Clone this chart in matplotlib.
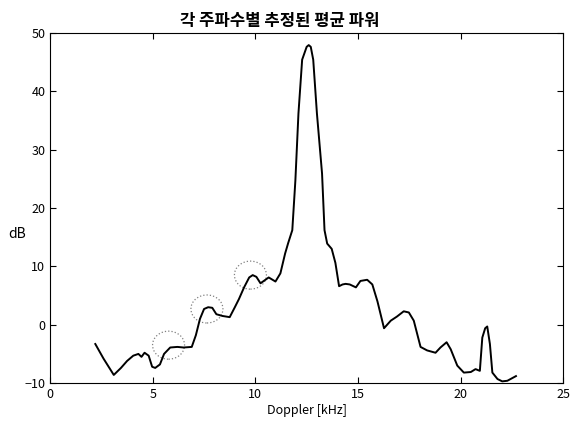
import matplotlib
matplotlib.use("Agg")
import matplotlib.pyplot as plt
from matplotlib.patches import Ellipse

plt.rcParams['font.family'] = ['Noto Sans CJK KR', 'DejaVu Sans']

# mean power per Doppler frequency
freq = [2.2, 2.6, 3.1, 3.45, 3.75, 4.05, 4.3, 4.45, 4.6, 4.8, 4.97, 5.12, 5.35, 5.55,
        5.85, 6.2, 6.5, 6.9, 7.1, 7.3, 7.5, 7.7, 7.9, 8.1, 8.4, 8.75, 9.0, 9.2, 9.45,
        9.7, 9.87, 10.05, 10.25, 10.45, 10.65, 10.98, 11.22, 11.45, 11.6, 11.8, 11.95,
        12.1, 12.28, 12.5, 12.6, 12.7, 12.82, 13.0, 13.25, 13.37, 13.5, 13.72, 13.9,
        14.08, 14.25, 14.4, 14.6, 14.9, 15.12, 15.45, 15.7, 15.95, 16.27, 16.6, 16.9,
        17.23, 17.48, 17.72, 18.05, 18.37, 18.78, 19.02, 19.32, 19.52, 19.84, 20.16,
        20.5, 20.73, 20.94, 21.06, 21.2, 21.3, 21.43, 21.55, 21.8, 22.03, 22.28, 22.7]
power = [-3.3, -5.8, -8.6, -7.4, -6.2, -5.3, -5.0, -5.5, -4.8, -5.3, -7.2, -7.4, -6.8, -5.0,
         -3.9, -3.8, -3.9, -3.8, -1.8, 1.0, 2.7, 3.0, 2.9, 1.8, 1.5, 1.3, 3.0, 4.4, 6.4,
         8.1, 8.5, 8.2, 7.1, 7.6, 8.1, 7.4, 8.8, 12.2, 14.0, 16.2, 24.7,
         36.2, 45.4, 47.6, 47.9, 47.6, 45.4, 36.2, 25.9, 16.2, 13.9, 13.0, 10.6,
         6.6, 6.9, 7.0, 6.9, 6.4, 7.5, 7.7, 6.9, 4.0, -0.6, 0.7, 1.4,
         2.3, 2.1, 0.7, -3.8, -4.4, -4.8, -3.9, -3.0, -4.2, -7.0, -8.2,
         -8.1, -7.6, -7.9, -2.2, -0.6, -0.3, -3.3, -8.2, -9.3, -9.7, -9.6, -8.8]

# dotted circles marking the harmonics
circle_x = [5.77, 7.64, 9.76]
circle_y = [-3.5, 2.7, 8.5]

fig = plt.figure(figsize=(5.7, 4.21), dpi=100)
ax = fig.add_axes([0.088, 0.09, 0.9, 0.832])

ax.plot(freq, power, color='black', linewidth=1.4)
for cx, cy in zip(circle_x, circle_y):
    ax.add_patch(Ellipse((cx, cy), 1.56, 4.8, fill=False, edgecolor='gray',
                         linestyle=':', linewidth=0.9))

ax.set_xlim(0, 25)
ax.set_ylim(-10, 50)
ax.set_xticks([0, 5, 10, 15, 20, 25])
ax.set_yticks([-10, 0, 10, 20, 30, 40, 50])
ax.tick_params(direction='in', top=True, right=True, labelsize=9, length=4)
ax.set_title('각 주파수별 추정된 평균 파워', fontsize=12, fontweight='bold',
             x=0.448, pad=5)
ax.set_xlabel('Doppler [kHz]', fontsize=9, labelpad=2)
ax.set_ylabel('dB', fontsize=10, rotation=0)
ax.yaxis.set_label_coords(-0.064, 0.407)

fig.savefig('out.png', dpi=100)
